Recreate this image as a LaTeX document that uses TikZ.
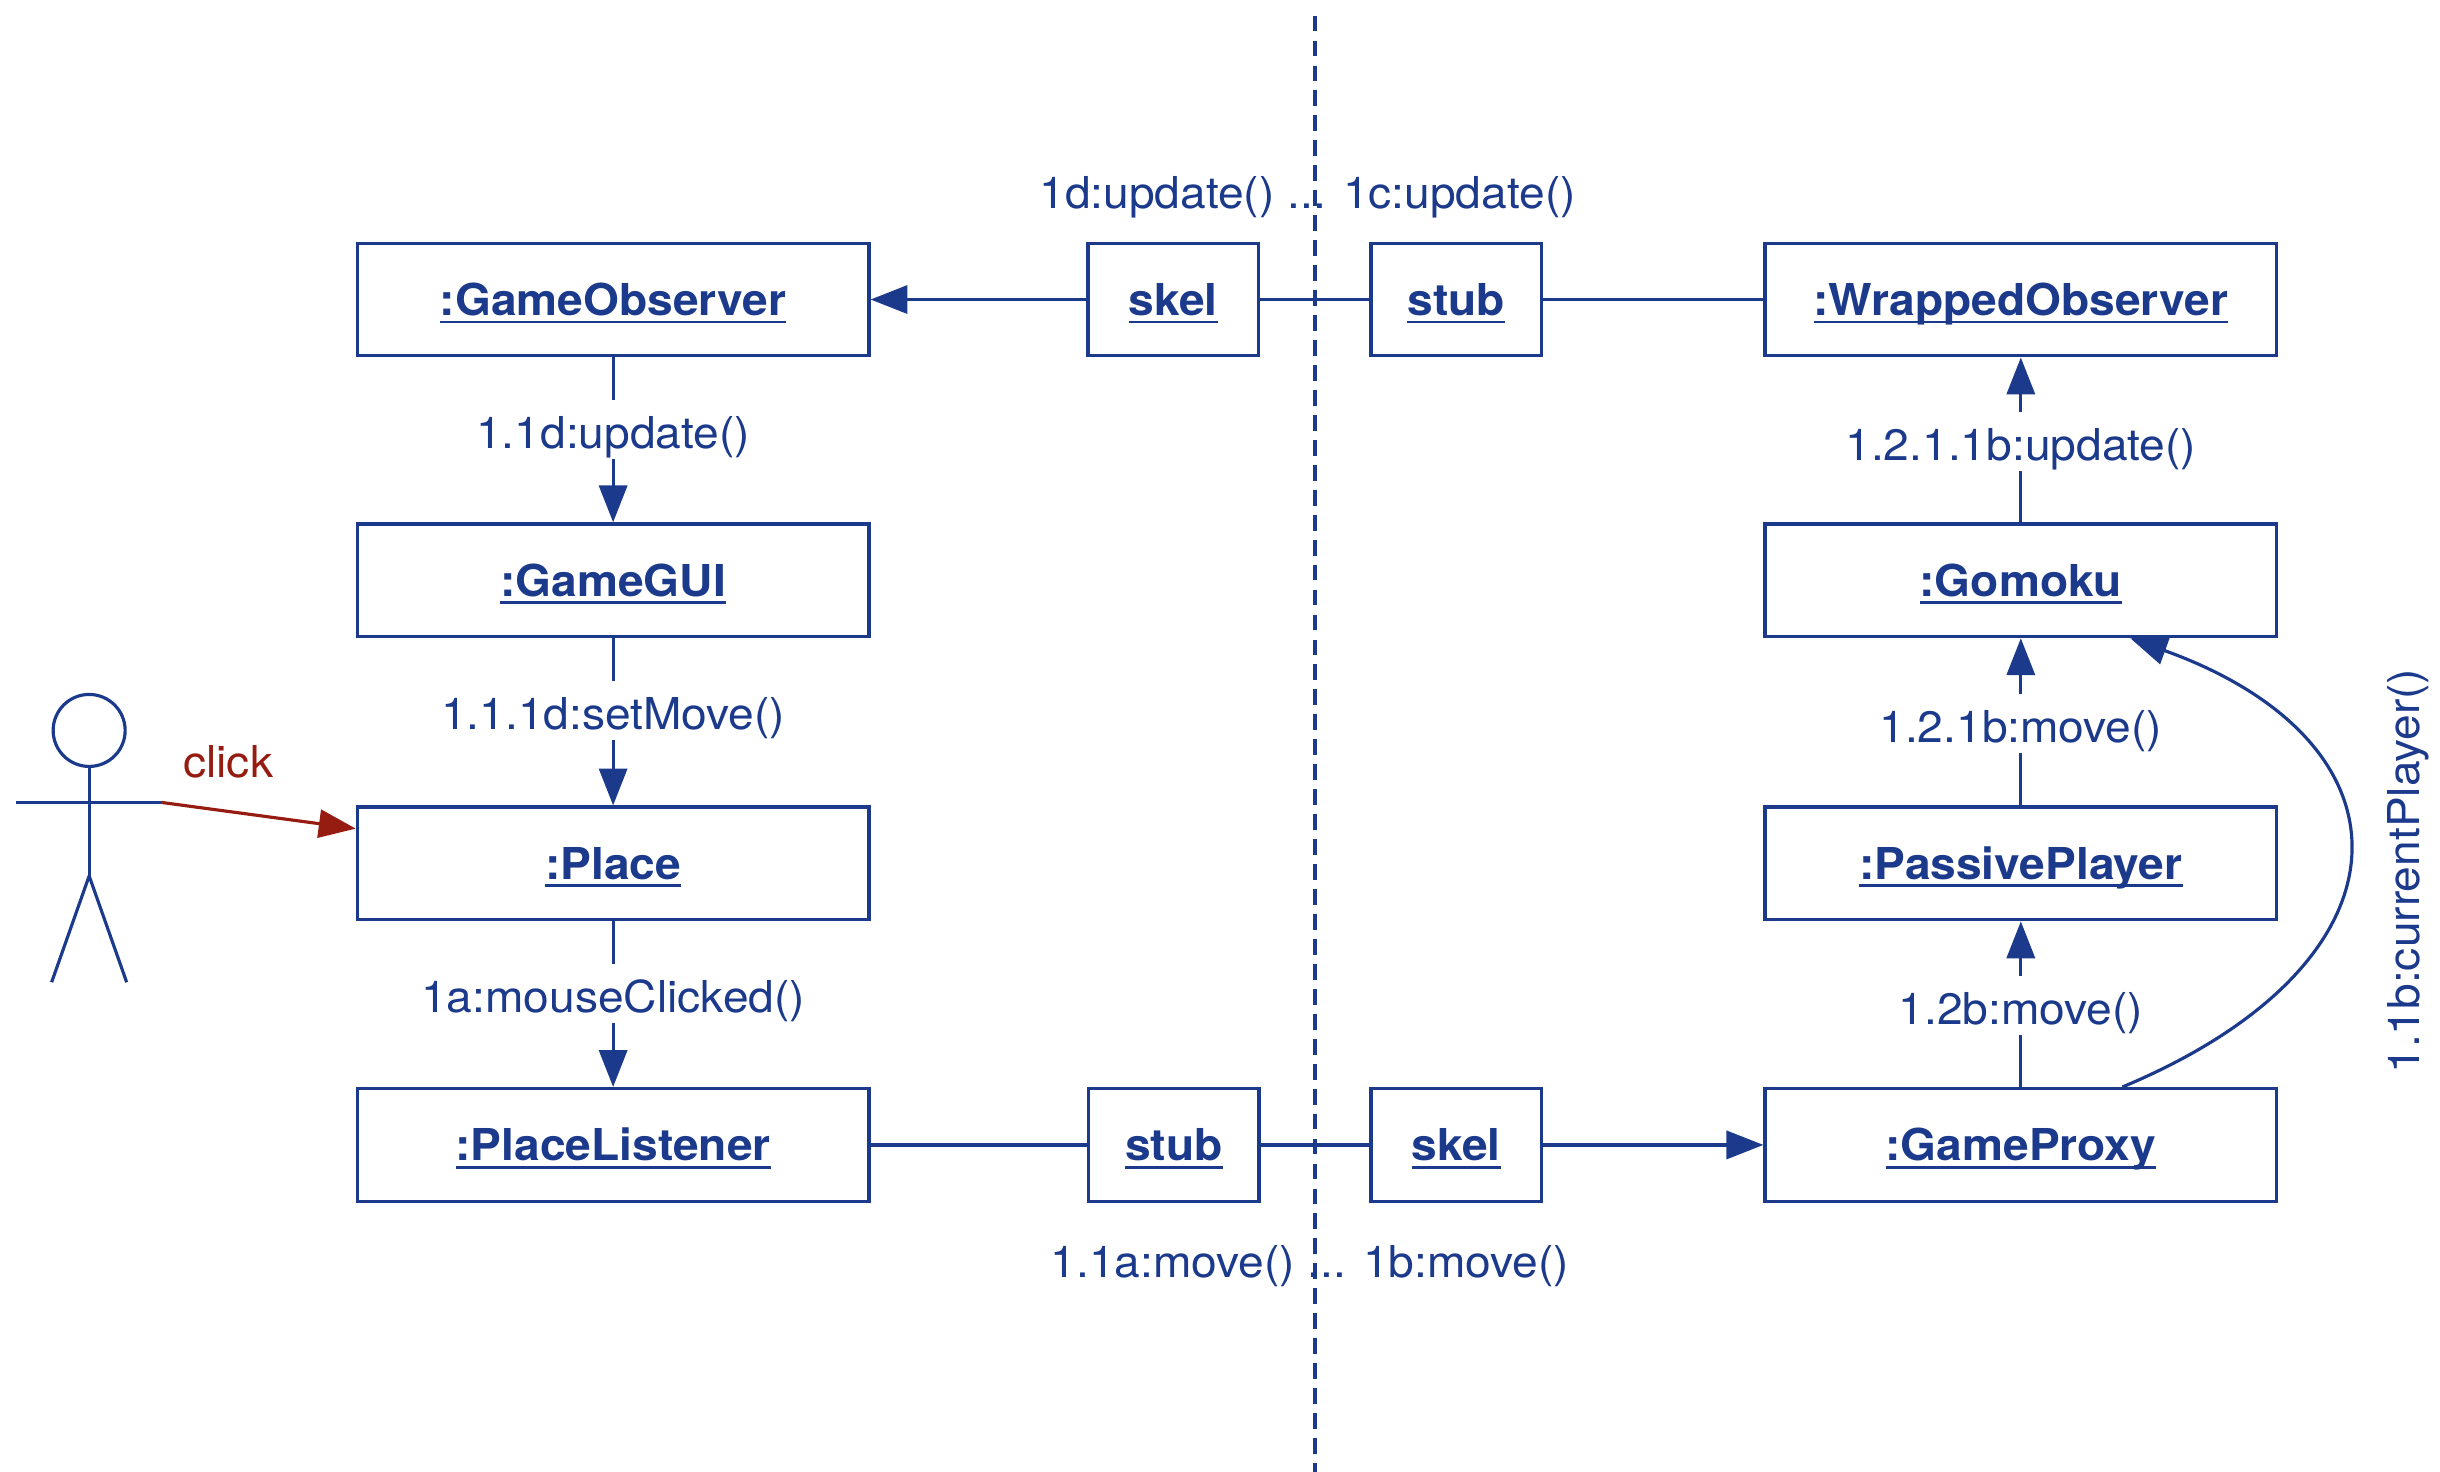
\documentclass[tikz,border=0pt]{standalone}
\usepackage{fontspec}
\setmainfont{TeX Gyre Heros}[FakeStretch=1.05]
\usetikzlibrary{arrows.meta,calc}
\definecolor{umlblue}{RGB}{28,58,140}
\definecolor{clickred}{RGB}{150,28,18}
\newcommand\myul[1]{\setbox0\hbox{#1}\rlap{\rule[-2.3pt]{\wd0}{0.8pt}}\box0}
\begin{document}
\begin{tikzpicture}[x=0.015641cm,y=-0.015641cm,
  obj/.style={draw=umlblue, line width=0.95pt, minimum width=5.115cm, minimum height=1.126cm,
    inner sep=0pt, text=umlblue, font=\fontsize{12.5pt}{15pt}\selectfont\bfseries,
    text height=9pt, text depth=0pt},
  smallobj/.style={obj, minimum width=1.705cm},
  lbl/.style={fill=white, text=umlblue, font=\fontsize{12.5pt}{15pt}\selectfont,
    inner sep=0.3pt, text height=13.5pt, text depth=2.7pt},
  freelbl/.style={text=umlblue, font=\fontsize{12.5pt}{15pt}\selectfont, inner sep=0pt},
  conn/.style={draw=umlblue, line width=0.9pt},
  arr/.style={conn, -{Triangle[length=10.5pt,width=8pt]}},
  actorline/.style={draw=umlblue, line width=0.9pt},
]
\useasboundingbox (0,0) rectangle (1560,941.1);

% boundary
\coordinate (dtop) at (841,10);
\coordinate (dbot) at (841,946);
\draw[umlblue, line width=1.1pt, dash pattern=on 4.5pt off 2.6pt] (dtop) -- (dbot);

% objects
\node[obj] (go)  at (392,191.5) {\myul{:GameObserver}};
\node[obj] (gui) at (392,371) {\myul{:GameGUI}};
\node[obj] (pl)  at (392,552) {\myul{:Place}};
\node[obj] (plis) at (392,732) {\myul{:PlaceListener}};
\node[smallobj] (skelA) at (750,191.5) {\myul{skel}};
\node[smallobj] (stubA) at (931,191.5) {\myul{stub}};
\node[smallobj] (stubB) at (750.5,732) {\myul{stub}};
\node[smallobj] (skelB) at (931,732) {\myul{skel}};
\node[obj] (wo)  at (1292,191.5) {\myul{:WrappedObserver}};
\node[obj] (gom) at (1292,371) {\myul{:Gomoku}};
\node[obj] (pp)  at (1292,552) {\myul{:PassivePlayer}};
\node[obj] (gp)  at (1292,732) {\myul{:GameProxy}};

% top row
\draw[arr] (skelA) -- (go);
\draw[conn] (skelA) -- (stubA);
\draw[conn] (stubA) -- (wo);
% bottom row
\draw[conn] (plis) -- (stubB);
\draw[conn] (stubB) -- (skelB);
\draw[arr] (skelB) -- (gp);

% left column
\draw[arr] (go) -- node[lbl, pos=0.435] {1.1d:update()} (gui);
\draw[arr] (gui) -- node[lbl, pos=0.435] {1.1.1d:setMove()} (pl);
\draw[arr] (pl) -- node[lbl, pos=0.435] {1a:mouseClicked()} (plis);

% right column
\draw[arr] (gp) -- node[lbl, pos=0.49] {1.2b:move()} (pp);
\draw[arr] (pp) -- node[lbl, pos=0.49] {1.2.1b:move()} (gom);
\draw[arr] (gom) -- node[lbl, pos=0.49] {1.2.1.1b:update()} (wo);

% curved call
\draw[arr] ($(gp.north)+(65,0)$) .. controls (1548,615) and (1548,475) .. ($(gom.south)+(70,0)$);
\node[freelbl, rotate=90, anchor=base] (cpl) at (1547,557) {1.1b:currentPlayer()};

% boundary labels
\node[freelbl, anchor=base] (toplbl) at (836,133) {1d:update() ... 1c:update()};
\node[freelbl, anchor=base] (botlbl) at (837.5,817) {1.1a:move() ... 1b:move()};

% actor
\node[circle, draw=umlblue, line width=0.9pt, minimum size=0.72cm, inner sep=0pt] (head) at (57,467) {};
\coordinate (hip) at (57,560);
\coordinate (armL) at (10,513);
\coordinate (hand) at (103,513);
\coordinate (footL) at (33,628);
\coordinate (footR) at (81,628);
\draw[actorline] (head.south) -- (hip);
\draw[actorline] (armL) -- (hand);
\draw[actorline] (hip) -- (footL);
\draw[actorline] (hip) -- (footR);

% click
\draw[draw=clickred, line width=0.9pt, -{Triangle[length=10.5pt,width=8pt]}]
  (hand) -- ($(pl.north west)!0.2!(pl.south west)$);
\node[freelbl, text=clickred, anchor=base] (click) at (146,497) {click};
\end{tikzpicture}
\end{document}
